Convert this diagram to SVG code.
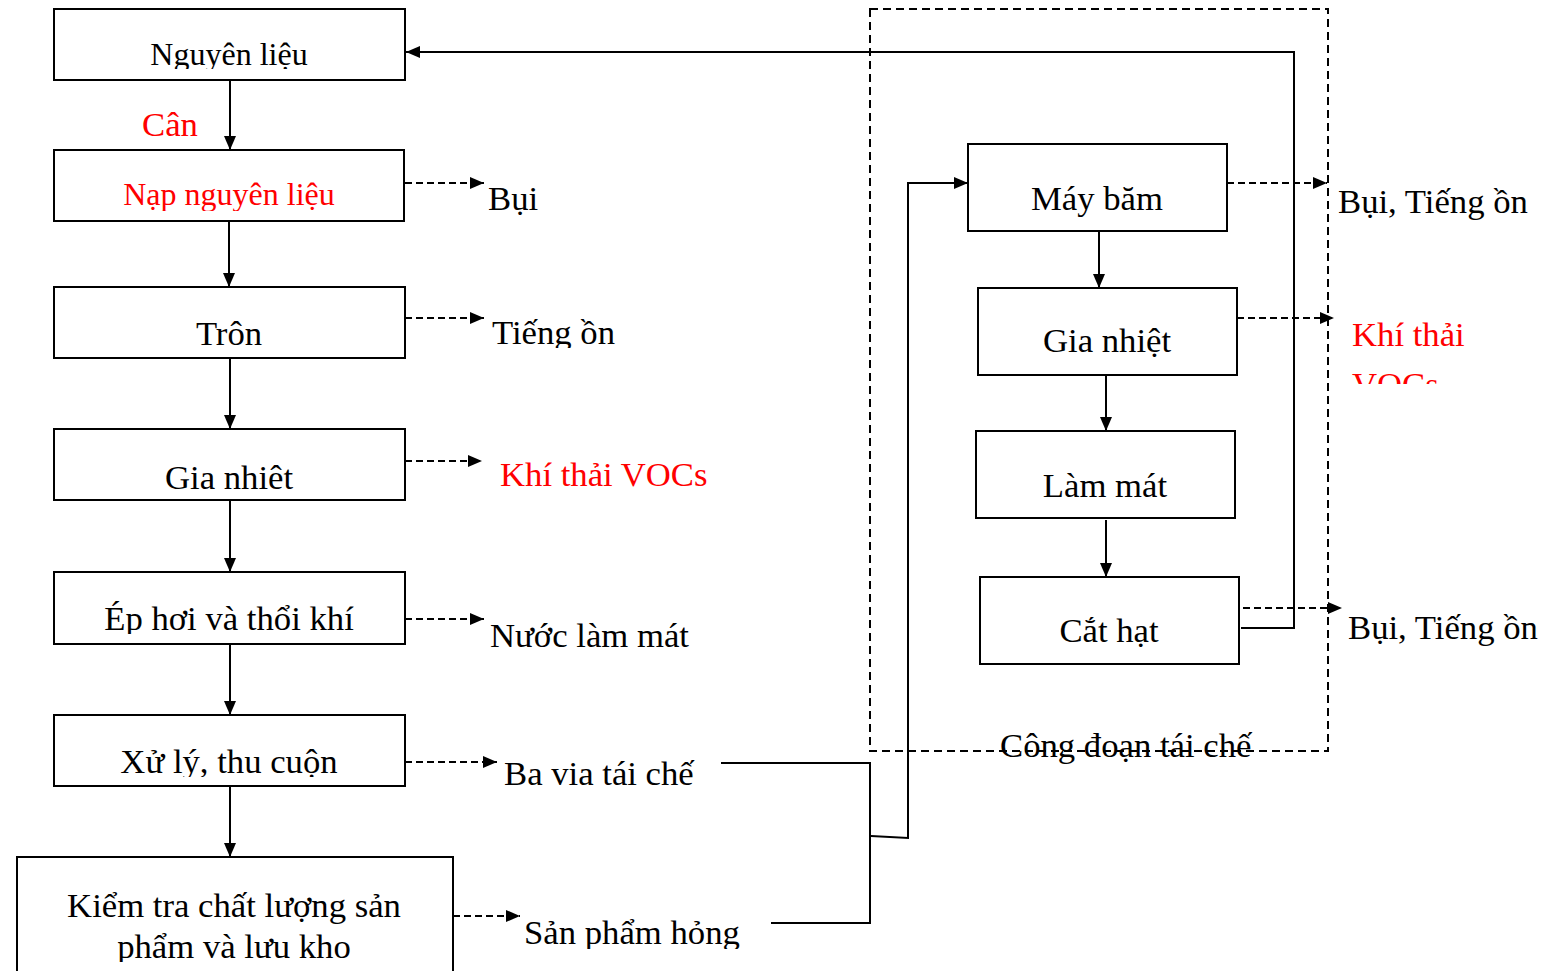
<svg xmlns="http://www.w3.org/2000/svg" width="1558" height="971" viewBox="0 0 1558 971" font-family="'Liberation Serif', 'DejaVu Serif', serif">
  <style>
    .box { fill: #fff; stroke: #000; stroke-width: 2; }
    .t { font-family: 'Liberation Serif', 'DejaVu Serif', serif; font-size: 34.7px; fill: #000; }
    .s { font-size: 32px; }
    .red { fill: #ff0000; }
    .mid { text-anchor: middle; }
    .ln { fill: none; stroke: #000; stroke-width: 2; }
    .dash { fill: none; stroke: #000; stroke-width: 2; stroke-dasharray: 7 4; }
    .frame { fill: none; stroke: #000; stroke-width: 2; stroke-dasharray: 8 5; }
  </style>
  <defs>
    <marker id="arr" markerUnits="userSpaceOnUse" markerWidth="16" markerHeight="14" refX="14" refY="6" orient="auto">
      <path d="M0,0 L14,6 L0,12 z" fill="#000"/>
    </marker>
    <!-- text boxes that cut their lines off at the bottom -->
    <clipPath id="c1"><rect x="54" y="20" width="351" height="49"/></clipPath>
    <clipPath id="c2"><rect x="54" y="160" width="351" height="51"/></clipPath>
    <clipPath id="c5"><rect x="54" y="580" width="351" height="54"/></clipPath>
    <clipPath id="c6"><rect x="54" y="720" width="351" height="57"/></clipPath>
    <clipPath id="c7"><rect x="17" y="860" width="436" height="102"/></clipPath>
    <clipPath id="cTieng"><rect x="480" y="300" width="200" height="48"/></clipPath>
    <clipPath id="cSp"><rect x="510" y="900" width="260" height="49"/></clipPath>
    <clipPath id="cKhi"><rect x="1345" y="300" width="200" height="84"/></clipPath>
  </defs>

  <!-- recycling stage frame -->
  <rect class="frame" x="870" y="9" width="458" height="742"/>

  <g id="connectors">
    <!-- main line -->
    <line class="ln" x1="230" y1="80" x2="230" y2="150" marker-end="url(#arr)"/>
    <line class="ln" x1="229" y1="221" x2="229" y2="287" marker-end="url(#arr)"/>
    <line class="ln" x1="230" y1="358" x2="230" y2="429" marker-end="url(#arr)"/>
    <line class="ln" x1="230" y1="500" x2="230" y2="572" marker-end="url(#arr)"/>
    <line class="ln" x1="230" y1="644" x2="230" y2="715" marker-end="url(#arr)"/>
    <line class="ln" x1="230" y1="786" x2="230" y2="857" marker-end="url(#arr)"/>
    <!-- emissions, left -->
    <line class="dash" x1="405" y1="183" x2="484" y2="183" marker-end="url(#arr)"/>
    <line class="dash" x1="405" y1="318" x2="484" y2="318" marker-end="url(#arr)"/>
    <line class="dash" x1="405" y1="461" x2="482" y2="461" marker-end="url(#arr)"/>
    <line class="dash" x1="405" y1="619" x2="484" y2="619" marker-end="url(#arr)"/>
    <line class="dash" x1="405" y1="762" x2="497" y2="762" marker-end="url(#arr)"/>
    <line class="dash" x1="453" y1="916" x2="520" y2="916" marker-end="url(#arr)"/>
    <!-- recycling line -->
    <line class="ln" x1="1099" y1="231" x2="1099" y2="288" marker-end="url(#arr)"/>
    <line class="ln" x1="1106" y1="375" x2="1106" y2="431" marker-end="url(#arr)"/>
    <line class="ln" x1="1106" y1="520" x2="1106" y2="577" marker-end="url(#arr)"/>
    <!-- emissions, right -->
    <line class="dash" x1="1227" y1="183" x2="1327" y2="183" marker-end="url(#arr)"/>
    <line class="dash" x1="1237" y1="318" x2="1334" y2="318" marker-end="url(#arr)"/>
    <line class="dash" x1="1243" y1="608" x2="1342" y2="608" marker-end="url(#arr)"/>
    <!-- pellets back to raw material -->
    <polyline class="ln" points="1241,628 1294,628 1294,52 406,52" marker-end="url(#arr)"/>
    <!-- scrap to shredder -->
    <polyline class="ln" points="721,763 870,763 870,923 771,923"/>
    <polyline class="ln" points="871,836 908,838 908,183 968,183" marker-end="url(#arr)"/>
  </g>

  <g id="n-nguyen-lieu">
    <rect class="box" x="54" y="9" width="351" height="71"/>
    <text class="t s mid" x="229" y="65" clip-path="url(#c1)">Nguyên liệu</text>
  </g>
  <text id="lbl-can" class="t red" x="142" y="136">Cân</text>
  <g id="n-nap">
    <rect class="box" x="54" y="150" width="350" height="71"/>
    <text class="t s red mid" x="229" y="205" clip-path="url(#c2)">Nạp nguyên liệu</text>
  </g>
  <g id="n-tron">
    <rect class="box" x="54" y="287" width="351" height="71"/>
    <text class="t mid" x="229" y="345">Trôn</text>
  </g>
  <g id="n-gia-nhiet-1">
    <rect class="box" x="54" y="429" width="351" height="71"/>
    <text class="t mid" x="229" y="489">Gia nhiêt</text>
  </g>
  <g id="n-ep-hoi">
    <rect class="box" x="54" y="572" width="351" height="72"/>
    <text class="t mid" x="229" y="630" clip-path="url(#c5)">Ép hơi và thổi khí</text>
  </g>
  <g id="n-xu-ly">
    <rect class="box" x="54" y="715" width="351" height="71"/>
    <text class="t mid" x="229" y="773" clip-path="url(#c6)">Xử lý, thu cuộn</text>
  </g>
  <g id="n-kiem-tra">
    <rect class="box" x="17" y="857" width="436" height="130"/>
    <g clip-path="url(#c7)">
      <text class="t mid" x="234" y="917">Kiểm tra chất lượng sản</text>
      <text class="t mid" x="234" y="958">phẩm và lưu kho</text>
    </g>
  </g>

  <g id="outputs-left">
    <text class="t" x="488" y="210">Bụi</text>
    <text class="t" x="492" y="344" clip-path="url(#cTieng)">Tiếng ồn</text>
    <text class="t red" x="500" y="486">Khí thải VOCs</text>
    <text class="t" x="490" y="647">Nước làm mát</text>
    <text class="t" x="504" y="785">Ba via tái chế</text>
    <text class="t" x="524" y="944" clip-path="url(#cSp)">Sản phẩm hỏng</text>
  </g>

  <g id="n-may-bam">
    <rect class="box" x="968" y="144" width="259" height="87"/>
    <text class="t mid" x="1097" y="210">Máy băm</text>
  </g>
  <g id="n-gia-nhiet-2">
    <rect class="box" x="978" y="288" width="259" height="87"/>
    <text class="t mid" x="1107" y="352">Gia nhiệt</text>
  </g>
  <g id="n-lam-mat">
    <rect class="box" x="976" y="431" width="259" height="87"/>
    <text class="t mid" x="1105" y="497">Làm mát</text>
  </g>
  <g id="n-cat-hat">
    <rect class="box" x="980" y="577" width="259" height="87"/>
    <text class="t mid" x="1109" y="642">Cắt hạt</text>
  </g>

  <g id="outputs-right">
    <text class="t" x="1338" y="213">Bụi, Tiếng ồn</text>
    <g clip-path="url(#cKhi)">
      <text class="t red" x="1352" y="346">Khí thải</text>
      <text class="t red" x="1352" y="396">VOCs</text>
    </g>
    <text class="t" x="1348" y="639">Bụi, Tiếng ồn</text>
  </g>

  <text id="lbl-cong-doan" class="t" x="1000" y="757">Công đoạn tái chế</text>
</svg>
